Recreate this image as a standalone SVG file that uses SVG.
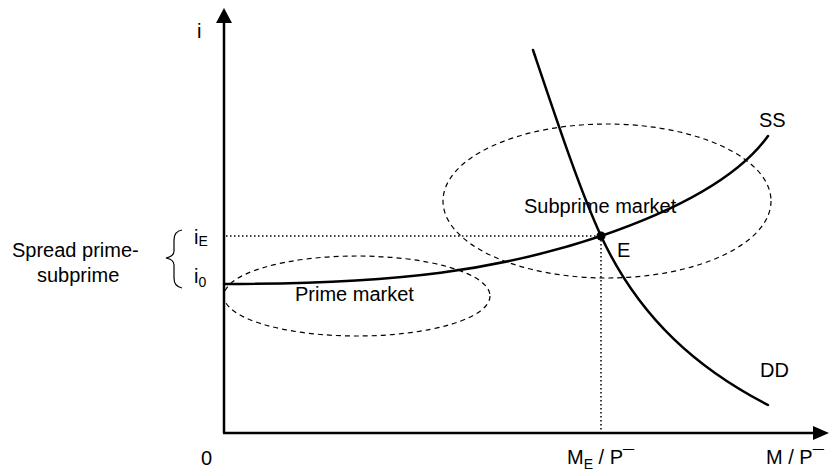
<svg xmlns="http://www.w3.org/2000/svg" width="830" height="473" viewBox="0 0 830 473">
<style>
text{font-family:"Liberation Sans",Arial,sans-serif;font-size:20px;fill:#000}
.sub{font-size:14px}
.ax{stroke:#000;stroke-width:2.5;fill:none}
.curve{stroke:#000;stroke-width:2.5;fill:none;stroke-linecap:round}
.ell{stroke:#000;stroke-width:1.2;fill:none;stroke-dasharray:5 4}
.dot{stroke:#000;stroke-width:1.5;fill:none;stroke-dasharray:1.5 2.5}
</style>
<rect width="830" height="473" fill="#fff"/>
<g id="axes">
<line class="ax" x1="224" y1="20" x2="224" y2="433"/>
<line class="ax" x1="223" y1="433" x2="816" y2="433"/>
<polygon points="224,8 216,23 232,23" fill="#000"/>
<polygon points="829,433 813,426 813,440" fill="#000"/>
</g>
<g id="connectors">
<line class="dot" x1="226" y1="236" x2="601" y2="236"/>
<line class="dot" x1="601" y1="236" x2="601" y2="431"/>
</g>
<g id="ellipses">
<ellipse id="prime-ellipse" class="ell" cx="357" cy="296" rx="133" ry="40"/>
<ellipse id="subprime-ellipse" class="ell" cx="607" cy="201" rx="164" ry="77"/>
</g>
<g id="SS">
<path class="curve" d="M224,284 C400,284 500,270 601,236 C680,209 740,175 768,136"/>
<text x="759" y="127">SS</text>
</g>
<g id="DD">
<path class="curve" d="M533,50 C560,130 580,190 601,236 C640,320 700,370 768,405"/>
<text x="760" y="377">DD</text>
</g>
<g id="E">
<circle cx="601" cy="236" r="4.5" fill="#000"/>
<text x="617" y="257">E</text>
</g>
<g id="labels">
<text x="524" y="213">Subprime market</text>
<text x="295" y="301">Prime market</text>
<text x="197" y="38">i</text>
<text x="201" y="465">0</text>
<text x="567" y="464">M<tspan class="sub" dy="5">E</tspan><tspan dy="-5"> / P¯</tspan></text>
<text x="766" y="464">M / P¯</text>
<text x="194" y="244">i<tspan class="sub" dy="2">E</tspan></text>
<text x="194" y="283">i<tspan class="sub" dy="4">0</tspan></text>
<text x="12" y="257">Spread prime-</text>
<text x="37" y="282">subprime</text>
<path d="M182,230 C176,231 174,234 174,240 L174,251 C174,255 171,257 166,258 C171,259 174,261 174,265 L174,278 C174,284 176,287 182,288" stroke="#000" stroke-width="1.2" fill="none"/>
</g>
</svg>
